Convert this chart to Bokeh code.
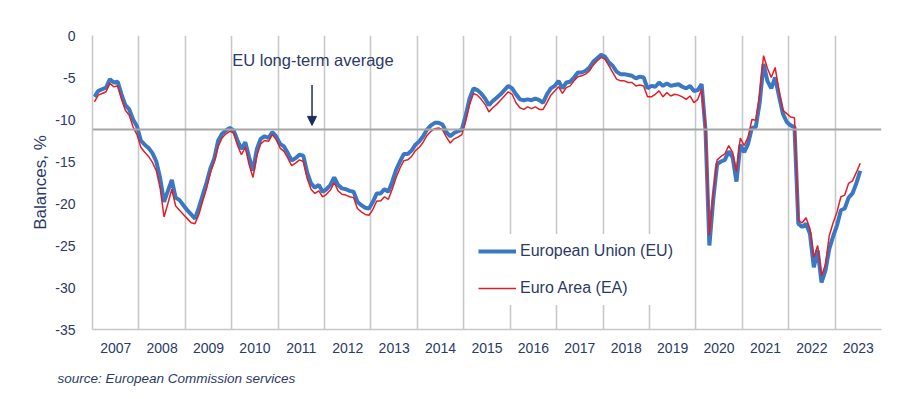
from bokeh.plotting import figure
from bokeh.models import FixedTicker, Span, Label, Arrow, NormalHead, Title, Range1d
from bokeh.embed import file_html
from bokeh.resources import INLINE

# ---------------- data (monthly balances, %) ----------------
years = list(range(2007, 2024))
year_labels = [str(y) for y in years]

eu_2007 = [-7.3, -6.6, -6.4, -6.2, -5.2, -5.6, -5.5, -7.0, -8.3, -8.8, -10.0, -10.8]
eu_2008 = [-12.5, -13.0, -13.4, -14.0, -15.0, -17.0, -19.8, -18.5, -17.2, -19.3, -19.6, -20.2]
eu_2009 = [-20.8, -21.3, -21.8, -20.5, -19.0, -17.5, -15.8, -14.6, -12.5, -11.7, -11.3, -11.0]
eu_2010 = [-11.3, -12.5, -13.5, -12.7, -14.5, -16.1, -13.5, -12.3, -12.0, -12.2, -11.5, -12.0]
eu_2011 = [-12.9, -13.2, -14.0, -14.9, -14.6, -14.2, -14.3, -16.3, -17.6, -18.1, -17.8, -18.6]
eu_2012 = [-18.3, -17.8, -16.9, -17.8, -18.2, -18.3, -18.5, -18.6, -19.8, -20.2, -20.5, -20.6]
eu_2013 = [-19.8, -18.8, -18.8, -18.3, -18.6, -17.4, -16.0, -15.0, -14.1, -14.1, -13.7, -13.0]
eu_2014 = [-12.6, -12.0, -11.2, -10.7, -10.4, -10.4, -10.6, -11.5, -12.0, -11.6, -11.4, -11.2]
eu_2015 = [-9.5, -7.5, -6.3, -6.5, -6.9, -7.5, -8.3, -7.8, -7.4, -7.0, -6.5, -6.0]
eu_2016 = [-6.3, -7.0, -7.6, -7.7, -7.6, -7.7, -7.5, -7.7, -8.0, -7.0, -6.3, -6.0]
eu_2017 = [-5.4, -6.3, -5.6, -5.5, -5.0, -4.4, -4.4, -4.2, -3.8, -3.1, -2.7, -2.3]
eu_2018 = [-2.5, -3.2, -3.6, -4.3, -4.6, -4.6, -4.7, -4.8, -5.1, -4.9, -5.0, -6.3]
eu_2019 = [-6.0, -6.1, -5.6, -6.0, -5.7, -6.0, -5.9, -5.8, -6.1, -6.3, -6.0, -6.6]
eu_2020 = [-6.5, -5.8, -11.3, -25.0, -19.5, -15.3, -15.0, -14.8, -13.8, -14.5, -17.4, -13.0]
eu_2021 = [-13.9, -12.9, -11.0, -10.9, -8.0, -3.4, -5.4, -6.3, -5.0, -7.2, -9.3, -10.3]
eu_2022 = [-10.7, -10.9, -22.4, -22.8, -22.4, -23.6, -27.6, -25.6, -29.4, -28.0, -25.4, -23.9]
eu_2023 = [-22.6, -20.8, -20.6, -19.3, -18.8, -17.6, -16.1]

ea_2007 = [-7.9, -7.1, -6.9, -6.7, -5.7, -6.1, -6.0, -7.6, -8.9, -9.5, -10.9, -11.8]
ea_2008 = [-13.3, -13.9, -14.4, -15.1, -16.1, -18.2, -21.6, -20.0, -18.3, -20.3, -20.8, -21.3]
ea_2009 = [-21.8, -22.3, -22.4, -21.3, -19.7, -18.2, -16.3, -15.0, -13.2, -12.2, -11.7, -11.4]
ea_2010 = [-11.6, -13.1, -14.2, -13.3, -15.4, -16.9, -14.3, -12.9, -12.5, -12.6, -11.8, -12.4]
ea_2011 = [-13.4, -13.8, -14.6, -15.5, -15.2, -14.8, -15.0, -17.0, -18.3, -18.8, -18.5, -19.2]
ea_2012 = [-18.9, -18.4, -17.5, -18.5, -18.9, -19.0, -19.2, -19.3, -20.6, -21.0, -21.3, -21.4]
ea_2013 = [-20.7, -19.7, -19.7, -19.2, -19.5, -18.3, -16.9, -15.8, -14.9, -14.8, -14.4, -13.7]
ea_2014 = [-13.3, -12.7, -11.9, -11.4, -11.1, -11.0, -11.2, -12.1, -12.8, -12.3, -12.1, -11.8]
ea_2015 = [-10.2, -8.2, -6.9, -7.1, -7.6, -8.2, -9.1, -8.6, -8.2, -7.7, -7.2, -6.7]
ea_2016 = [-7.0, -8.0, -8.6, -8.8, -8.5, -8.7, -8.5, -8.8, -8.8, -8.0, -7.1, -6.6]
ea_2017 = [-6.1, -6.9, -6.2, -6.0, -5.4, -4.9, -4.8, -4.6, -4.2, -3.5, -3.0, -2.6]
ea_2018 = [-2.8, -3.6, -4.4, -5.2, -5.4, -5.4, -5.6, -5.6, -6.0, -5.9, -6.0, -7.3]
ea_2019 = [-7.3, -7.0, -6.6, -7.3, -6.8, -7.2, -7.0, -7.1, -7.3, -7.6, -7.2, -8.0]
ea_2020 = [-7.6, -6.4, -11.0, -23.8, -18.8, -14.8, -14.4, -14.1, -13.1, -13.9, -16.2, -12.2]
ea_2021 = [-13.1, -12.1, -10.0, -10.1, -7.0, -2.4, -3.9, -5.0, -3.8, -6.6, -8.9, -9.3]
ea_2022 = [-9.7, -9.8, -22.0, -22.3, -21.7, -23.0, -26.4, -25.0, -28.6, -27.3, -23.8, -22.3]
ea_2023 = [-21.0, -19.2, -19.0, -17.6, -17.3, -16.3, -15.2]

eu_by_year = [eu_2007, eu_2008, eu_2009, eu_2010, eu_2011, eu_2012, eu_2013, eu_2014,
              eu_2015, eu_2016, eu_2017, eu_2018, eu_2019, eu_2020, eu_2021, eu_2022, eu_2023]
ea_by_year = [ea_2007, ea_2008, ea_2009, ea_2010, ea_2011, ea_2012, ea_2013, ea_2014,
              ea_2015, ea_2016, ea_2017, ea_2018, ea_2019, ea_2020, ea_2021, ea_2022, ea_2023]

long_term_average = -11.2
y_ticks = [0, -5, -10, -15, -20, -25, -30, -35]
y_labels = ["0", "-5", "-10", "-15", "-20", "-25", "-30", "-35"]

# monthly time positions (fractional years, mid-month)
eu_x, eu_y, ea_x, ea_y = [], [], [], []
for yr, vals in zip(years, eu_by_year):
    for m, v in enumerate(vals):
        eu_x.append(yr + (m + 0.5) / 12.0)
        eu_y.append(v)
for yr, vals in zip(years, ea_by_year):
    for m, v in enumerate(vals):
        ea_x.append(yr + (m + 0.5) / 12.0)
        ea_y.append(v)

# ---------------- styling ----------------
FONT = "Liberation Sans"
TEXT = "#2B3A67"
GRID = "#C8C8C8"
BLUE = "#3A78C3"
RED = "#E41E26"

p = figure(width=892, height=399, output_backend="svg", toolbar_location=None,
           x_range=Range1d(2007, 2024), y_range=Range1d(-35, 0),
           min_border_left=92, min_border_right=11, min_border_top=35, min_border_bottom=70)
p.outline_line_color = None
p.background_fill_color = "white"

p.ygrid.grid_line_color = None
p.xgrid.ticker = FixedTicker(ticks=[y + 1 for y in years])
p.xgrid.grid_line_color = GRID
p.xgrid.grid_line_width = 1.6

p.xaxis.ticker = FixedTicker(ticks=[y + 0.5 for y in years])
p.xaxis.major_label_overrides = {y + 0.5: lab for y, lab in zip(years, year_labels)}
p.yaxis.ticker = FixedTicker(ticks=y_ticks)
p.yaxis.major_label_overrides = {t: lab for t, lab in zip(y_ticks, y_labels)}

for ax in (p.xaxis, p.yaxis):
    ax.axis_line_color = GRID
    ax.axis_line_width = 1.6
    ax.major_tick_line_color = None
    ax.minor_tick_line_color = None
    ax.major_label_text_font = FONT
    ax.major_label_text_font_size = "14px"
    ax.major_label_text_color = TEXT

p.xaxis.major_label_standoff = 7
p.yaxis.major_label_standoff = 11
p.yaxis.axis_label = "Balances, %"
p.yaxis.axis_label_text_font = FONT
p.yaxis.axis_label_text_font_size = "17px"
p.yaxis.axis_label_text_font_style = "normal"
p.yaxis.axis_label_text_color = TEXT
p.yaxis.axis_label_standoff = 2

p.add_layout(Span(location=long_term_average, dimension="width",
                  line_color="#A6A6A6", line_width=2))

p.line(eu_x, eu_y, line_color=BLUE, line_width=4, legend_label="European Union (EU)")
p.line(ea_x, ea_y, line_color=RED, line_width=1.5, legend_label="Euro Area (EA)")

# annotation
ann_x = 2011.75
p.add_layout(Label(x=ann_x, y=-2.9, text="EU long-term average", text_align="center",
                   text_baseline="middle", text_font=FONT, text_font_size="16.5px",
                   text_color=TEXT))
p.add_layout(Arrow(end=NormalHead(size=9, fill_color="#1F2D5C", line_color="#1F2D5C"),
                   x_start=ann_x - 0.02, y_start=-5.9, x_end=ann_x - 0.02, y_end=-10.7,
                   line_color="#1F2D5C", line_width=1.5))

lg = p.legend[0]
lg.location = (386, 24)
lg.background_fill_color = "white"
lg.background_fill_alpha = 1.0
lg.border_line_color = None
lg.label_text_font = FONT
lg.label_text_font_size = "16px"
lg.label_text_color = TEXT
lg.glyph_width = 38
lg.glyph_height = 34
lg.label_height = 34
lg.label_standoff = 4
lg.spacing = 3
lg.padding = 8
lg.margin = 0

p.add_layout(Title(text="source: European Commission services", align="left", offset=-35,
                   standoff=27, text_font=FONT, text_font_size="13.5px",
                   text_font_style="italic", text_color=TEXT), "below")

open("out.html", "w").write(file_html(p, INLINE))
